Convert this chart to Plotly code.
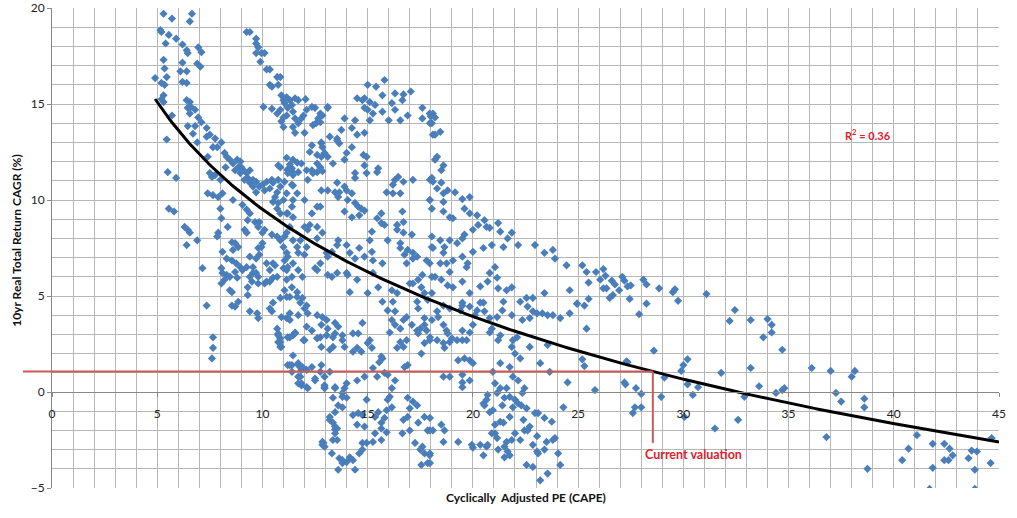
import numpy as np
import plotly.graph_objects as go

# (CAPE, 10yr real total return CAGR %), grouped by CAPE band
pts_cape_5_8 = [
    (5.3,19.7),(5.7,19.45),(6.65,19.7),(6.55,19.3),(5.15,18.85),(5.2,18.75),(5.55,18.6),(5.9,18.4),
    (5.4,18.15),(6.2,18.1),(6.4,17.8),(6.45,17.65),(6.95,17.95),(7.1,17.7),(5.3,17.3),(6.2,17.15),
    (6.9,17.1),(7.05,16.95),(5.35,16.85),(6.1,16.7),(6.4,16.7),(4.9,16.35),(5.45,16.4),(5.2,16.1),
    (5.35,16.0),(6.2,16.15),(6.4,16.1),(5.3,15.45),(5.2,15.25),(5.3,15.1),(6.4,15.2),(6.55,15.1),
    (6.45,14.8),(6.6,14.85),(6.8,14.7),(6.55,14.5),(6.95,14.3),(5.7,14.4),(7.1,14.05),(6.45,13.85),
    (6.8,13.85),(7.35,13.75),(7.5,13.4),(7.35,13.3),(6.7,13.45),(7.75,13.2),(5.45,13.15),(6.9,13.0),
    (7.65,12.75),(8.05,13.0),(7.85,12.75),(7.4,12.25),(5.5,11.45),(5.9,11.15),(5.55,9.55),(5.8,9.4),
    (6.3,8.6),(6.45,8.45),(6.55,8.3),(6.4,7.65),(6.9,7.9),(7.35,4.5),(7.15,6.45),(7.65,2.85),
    (7.65,2.3),(7.6,1.75),
]
pts_cape_8_11 = [
    (7.5,11.4),(7.6,11.2),(7.75,11.3),(8.0,11.05),(7.4,10.35),(7.65,10.25),(7.9,10.15),(8.1,10.35),
    (8.6,10.0),(8.0,9.55),(8.05,9.05),(8.35,8.6),(9.05,9.75),(9.25,9.5),(9.4,9.3),(9.3,8.95),
    (9.65,8.85),(9.85,8.85),(9.8,8.6),(10.1,8.45),(10.0,8.3),(10.45,8.2),(10.7,8.1),(11.05,8.1),
    (9.15,8.45),(9.25,8.3),(8.2,12.45),(8.3,12.25),(8.45,12.1),(8.25,11.7),(8.6,11.9),(8.8,12.1),
    (8.95,12.0),(8.85,11.7),(9.0,11.7),(9.1,11.55),(9.25,11.4),(8.95,11.4),(8.7,11.55),(9.4,11.55),
    (9.3,11.15),(9.55,11.05),(9.7,10.95),(9.4,10.9),(9.15,11.05),(9.85,10.7),(10.0,10.8),(10.1,10.5),
    (9.7,10.4),(9.55,10.7),(10.2,10.95),(10.45,11.05),(10.5,10.9),(10.35,10.6),(10.7,10.4),(10.85,10.7),
    (10.75,11.05),(10.85,11.7),(11.2,11.55),(10.6,10.15),(10.5,9.9),(10.75,9.85),(11.0,10.0),(11.15,10.35),
    (10.7,9.55),(10.85,9.3),(11.15,9.3),(7.85,8.1),(7.9,8.3),(8.1,7.3),(8.55,7.8),(8.7,7.75),
    (8.85,7.55),(8.6,7.4),(8.55,6.85),(8.75,6.7),(8.3,6.95),(8.95,6.5),(9.4,7.05),(9.7,6.95),
    (9.8,7.5),(9.95,7.55),(10.0,7.75),(9.85,7.15),(9.05,6.35),(9.25,6.5),(9.55,6.5),(9.4,6.0),
    (9.55,6.2),(9.7,6.2),(9.8,6.0),(9.3,5.45),(9.5,5.75),(8.1,6.2),(8.3,6.1),(8.05,5.65),
    (8.2,5.85),(8.45,6.0),(8.55,5.2),(8.7,6.25),(8.8,5.95),(8.05,6.45),(10.2,6.7),(10.5,6.7),
    (10.6,6.6),(10.35,6.35),(10.2,5.75),(10.35,5.75),(10.5,5.95),(10.1,5.65),(9.8,5.65),(10.7,6.0),
    (11.0,6.45),(11.15,6.35),(11.05,6.85),(11.15,7.25),(10.85,7.9),(11.0,7.55),(11.15,4.95),(10.85,4.9),
    (10.5,4.65),(10.35,4.35),(10.45,4.2),(11.15,3.85),(10.9,3.9),(10.7,3.3),(10.75,3.05),(10.85,2.8),
    (10.75,2.6),(10.85,2.35),(11.2,2.85),(11.2,1.4),(9.8,3.85),(9.4,4.2),(9.75,4.1),(9.3,5.05),
    (8.55,4.5),(8.7,4.45),(8.85,4.7),(8.45,5.3),
    (9.25,18.75),(9.4,18.75),(9.7,18.4),(9.7,18.15),(9.8,17.95),(9.7,17.65),(9.95,17.65),(10.1,17.65),
    (9.9,17.2),(10.2,16.8),(10.35,16.8),(10.35,16.0),(10.45,15.9),(10.7,16.4),(10.85,16.4),(10.75,16.0),
    (10.9,15.45),(11.0,15.2),(11.15,15.35),(11.3,15.2),(11.05,15.05),(11.2,14.8),(10.7,14.5),(10.85,14.7),
    (11.0,14.3),(11.15,14.4),(11.0,13.8),(10.05,14.85),(10.45,14.75),(10.9,14.1),(10.75,11.8),(11.15,12.2),
    (11.2,11.6),(10.75,2.95),(10.85,2.6),(10.9,2.35),
]
pts_cape_11_18 = [
    (11.55,15.3),(11.7,15.2),(12.05,15.25),(11.4,14.95),(11.45,14.6),(11.55,14.25),(11.7,14.0),(11.85,14.25),
    (11.95,14.4),(12.1,14.7),(12.35,14.85),(12.5,14.8),(12.75,14.5),(12.65,14.25),(12.85,14.4),(13.1,14.8),
    (12.4,13.9),(12.55,14.0),(12.75,14.05),(11.45,13.8),(12.0,13.5),(11.55,13.5),(13.55,13.2),(12.35,12.85),
    (12.8,12.95),(12.6,12.35),(11.45,12.1),(11.3,11.85),(11.4,11.5),(11.45,10.75),(12.1,11.55),(12.85,11.5),
    (15.8,16.25),(15.0,16.0),(15.4,15.9),(16.3,15.55),(15.7,15.45),(16.7,15.5),(17.05,15.65),(16.65,15.2),
    (14.5,15.3),(14.75,15.2),(14.85,15.3),(15.1,15.1),(15.35,14.95),(15.0,14.7),(14.85,14.8),(15.25,14.5),
    (15.7,14.6),(16.15,15.05),(16.3,14.7),(16.9,14.4),(16.55,14.15),(16.0,14.15),(15.1,14.15),(14.4,14.15),
    (13.9,14.25),(13.1,14.85),(17.6,14.8),(17.95,14.5),(17.6,14.25),(14.25,13.75),(13.75,13.65),(14.5,13.4),
    (14.85,13.5),(13.2,13.3),(13.55,13.1),(13.65,12.95),(14.25,12.75),(12.8,13.0),(12.85,12.75),(12.25,12.5),
    (12.95,12.45),(13.1,12.25),(14.0,12.45),(14.8,12.35),(14.95,12.25),(13.9,12.1),(12.8,12.25),(13.35,11.9),
    (12.6,11.9),(11.85,11.9),(11.65,11.95),(11.4,11.65),(11.45,11.3),(11.2,11.4),(11.05,10.95),(11.4,10.8),
    (11.7,11.45),(12.35,11.55),(12.4,11.4),(12.6,11.45),(12.15,11.05),(12.75,11.7),(14.4,11.4),(14.85,11.8),
    (14.95,11.4),(15.45,11.45),(15.5,11.65),(14.4,11.15),(13.55,10.9),(13.9,10.7),(13.1,10.5),(13.45,10.4),
    (13.65,10.4),(13.6,10.15),(14.0,10.5),(14.25,10.35),(14.05,10.0),(14.4,9.85),(14.55,9.65),(14.7,9.55),
    (14.85,9.45),(14.6,9.2),(13.9,9.4),(14.25,9.1),(12.6,9.65),(12.75,9.65),(12.0,10.0),(11.65,10.35),
    (11.45,10.0),(11.4,9.65),(11.2,9.3),(11.45,9.1),(16.3,11.05),(16.45,11.2),(16.7,10.95),(16.2,10.8),
    (17.15,11.05),(16.55,10.35),(15.9,10.4),(16.2,10.35),(16.65,9.4),(16.7,8.85),(15.65,9.3),(15.45,9.05),
    (15.65,8.8),(15.8,8.7),(16.4,8.7),(15.2,8.35),(15.1,7.9),(15.95,7.9),(16.4,8.45),(16.7,8.3),
    (17.1,8.2),(16.55,7.75),(16.55,7.5),(16.9,7.4),(17.15,7.25),(16.75,7.15),(16.85,6.7),(17.15,6.95),
    (17.35,7.05),(17.95,6.7),(17.8,6.85),(17.6,6.1),(17.4,5.85),(17.55,5.45),(17.15,5.65),(17.0,5.65),
    (17.7,5.15),(16.15,5.3),(16.4,5.15),(15.7,4.7),(16.2,4.7),(16.3,4.2),(16.15,3.75),(16.3,3.5),
    (16.05,3.1),(16.55,3.3),(16.55,2.6),(16.85,2.7),(16.4,2.3),(16.7,2.35),(17.35,3.2),(17.5,3.3),
    (17.1,3.5),(17.7,3.5),(17.7,3.85),(17.4,4.35),(15.7,1.75),(15.55,1.55),(15.65,1.85),(16.9,1.4),
    (16.75,1.3),(15.0,2.55),(15.1,2.7),(15.2,2.3),(14.55,3.05),(14.3,3.05),(14.75,3.6),(13.8,2.95),
    (13.9,2.35),(14.5,2.3),(14.3,2.1),(14.7,2.1),(13.8,2.7),(13.45,3.05),(13.45,3.6),(13.6,3.4),
    (13.1,3.3),(13.05,3.75),(12.85,3.9),(12.6,4.0),(12.8,3.5),(12.75,2.85),(12.6,2.8),(12.35,3.2),
    (12.1,3.4),(12.0,2.7),(11.45,2.95),(11.55,3.1),(11.3,3.75),(11.3,4.1),(11.7,4.0),(12.15,4.1),
    (12.0,4.35),(11.8,4.65),(11.9,4.9),(11.65,4.95),(11.3,4.95),(11.05,5.3),(11.4,5.45),(11.65,5.2),
    (12.1,4.5),(11.2,6.5),(11.45,6.7),(11.7,6.35),(11.4,6.0),(11.9,6.0),(11.2,7.05),(11.7,7.25),
    (12.0,7.15),(12.1,7.55),(11.65,7.55),(11.8,7.9),(11.45,7.9),(11.15,8.3),(11.3,8.6),(12.0,8.6),
    (12.15,8.45),(12.6,8.0),(12.75,6.7),(12.5,6.45),(12.6,6.35),(13.1,6.1),(13.3,6.0),(13.55,6.2),
    (14.0,6.2),(14.05,6.1),(14.5,5.85),(14.15,5.2),(13.05,7.25),(12.8,10.5),(12.35,9.3),(11.15,5.85),
    (13.45,0.2),(13.8,-0.05),(13.9,0.2),(14.0,0.45),(14.5,0.6),(14.85,0.8),(12.95,0.25),(12.95,0.8),
    (12.5,0.7),(12.35,1.3),(11.9,1.3),(11.8,1.3),(11.7,1.5),(11.85,1.15),(11.7,0.8),(11.85,0.45),
    (12.1,0.25),(11.3,1.4),(15.25,1.25),(15.45,0.8),(15.8,1.0),(15.95,0.9),(16.3,0.6),(16.15,0.2),
    (16.05,-0.25),(15.95,-0.4),(16.15,-0.8),(15.9,-0.95),(15.5,-1.05),(15.35,-1.3),(15.8,-1.35),(15.65,-1.6),
    (15.65,-1.9),(15.9,-2.1),(15.35,-2.15),(15.65,-2.5),(15.25,-2.6),(14.75,-1.2),(14.55,-1.1),(14.3,-1.2),
    (14.85,-1.8),(14.75,-2.65),(14.95,-2.65),(14.75,-3.0),(14.6,-3.2),(13.8,-0.25),(13.8,-0.8),(13.6,-0.7),
    (13.45,-1.05),(13.2,-1.3),(13.35,-1.6),(13.55,-1.9),(13.45,-2.15),(13.35,-2.5),(12.85,-2.6),(12.85,-2.75),
    (13.3,-3.2),(13.65,-3.45),(13.8,-3.7),(13.6,-4.05),(13.8,-3.55),(14.0,-3.65),(14.15,-3.4),(14.3,-3.55),
    (14.4,-4.05),(14.0,-0.3),(14.95,-0.4),(14.5,-1.7),(16.9,-0.3),(17.15,-0.5),(17.35,-0.7),(17.0,-0.85),
    (16.9,-1.3),(16.7,-1.45),(16.65,-2.15),(17.0,-2.0),(17.25,-2.65),(17.4,-1.6),(17.7,-1.3),(17.85,-2.0),
    (17.6,-2.85),(17.5,-3.0),(17.7,-3.2),(17.95,-3.3),(17.55,-3.8),(17.85,-3.7),(17.55,2.0),(17.7,2.55),
    (17.95,2.7),(17.8,3.2),(17.4,3.05),(16.85,3.9),(16.7,3.75),(17.85,4.8),(17.35,4.7),(15.95,4.25),
    (15.0,5.15),(15.5,5.45),(15.25,6.2),(15.7,6.7),(15.25,6.85),(14.85,7.05),(14.4,6.95),(14.15,7.25),
    (14.6,7.5),(15.2,7.3),(14.0,7.65),(13.55,7.65),(13.3,7.3),(13.1,7.05),(13.6,7.9),(12.85,8.3),
    (12.6,8.6),(12.25,8.7),
    (11.3,2.85),(11.45,1.9),(11.55,3.05),(11.95,2.7),(11.4,1.4),(11.7,1.4),(11.4,1.05),(11.8,0.8),
    (12.1,1.15),(11.7,0.45),(11.85,0.35),(12.15,0.2),(12.5,0.6),(12.6,2.8),(12.8,2.35),(12.8,1.4),
    (12.75,1.05),(13.2,1.05),(12.95,0.35),(12.95,0.2),(13.05,2.95),(13.35,2.85),(13.2,2.2),(13.35,2.35),
    (13.45,0.25),(13.35,-0.3),(13.2,-1.45),(13.45,-1.8),(13.45,-1.95),(13.55,-2.5),(12.9,-2.65),(12.95,-2.85),
]
pts_cape_18_25 = [
    (18.1,14.5),(18.0,14.35),(18.2,14.3),(17.96,14.0),(18.45,13.55),(18.2,13.4),(18.2,12.1),(18.3,12.25),
    (18.6,11.8),(18.5,11.55),(17.96,11.05),(18.1,10.95),(18.5,10.9),(18.3,10.6),(18.8,10.5),(19.15,10.4),
    (18.6,10.35),(18.6,9.9),(17.96,10.0),(19.5,10.05),(19.85,10.15),(19.6,9.55),(18.6,9.4),(18.9,9.1),
    (19.05,9.05),(19.85,9.3),(20.2,9.2),(20.25,8.7),(20.0,8.45),(20.55,8.95),(20.65,8.6),(20.8,8.55),
    (21.2,8.8),(21.3,8.35),(21.85,8.3),(21.45,7.55),(21.65,8.0),(20.9,7.65),(20.5,7.5),(20.0,7.3),
    (19.6,8.2),(19.5,8.0),(19.25,7.75),(18.9,7.9),(18.45,7.9),(18.05,8.1),(18.1,7.5),(18.65,7.55),
    (18.6,7.25),(18.45,6.7),(18.75,6.7),(19.05,6.85),(19.5,7.05),(19.75,6.7),(19.7,6.5),(18.9,6.25),
    (18.2,6.0),(18.5,5.85),(18.8,5.55),(19.05,5.45),(19.5,5.75),(19.85,5.15),(20.35,5.5),(20.7,5.75),
    (21.15,5.95),(21.05,6.5),(20.8,6.2),(21.2,5.4),(21.6,5.3),(21.85,5.45),(22.15,7.65),(22.95,7.65),
    (23.4,7.25),(23.8,7.4),(23.9,6.95),(24.45,6.6),(24.6,5.3),(24.95,4.6),(24.6,4.1),(23.4,5.15),
    (22.85,4.9),(22.55,4.9),(22.25,4.7),(22.6,4.45),(22.85,4.2),(23.05,4.1),(23.3,4.1),(23.55,4.0),
    (23.8,4.0),(24.15,3.85),(22.7,3.85),(22.35,3.75),(21.85,4.0),(21.45,4.7),(21.4,4.25),(21.15,3.9),
    (20.8,3.85),(20.55,4.2),(20.35,4.65),(20.2,4.25),(20.1,4.0),(20.5,4.65),(19.5,4.5),(19.5,4.65),
    (19.4,4.25),(19.85,4.45),(18.9,4.35),(18.6,4.5),(18.3,4.2),(18.05,3.75),(18.35,3.9),(18.6,3.5),
    (18.75,3.2),(18.8,3.05),(18.9,2.6),(18.6,2.55),(18.65,2.3),(18.3,2.7),(17.96,2.85),(19.0,2.8),
    (19.25,2.7),(19.5,2.7),(19.7,2.7),(19.5,3.2),(19.85,3.1),(20.0,3.5),(19.3,1.65),(19.6,1.75),
    (19.85,1.65),(20.0,1.5),(18.6,0.8),(18.9,0.8),(19.5,0.9),(19.5,0.5),(19.5,0.25),(19.85,0.6),
    (20.95,1.05),(21.3,1.5),(21.75,1.3),(21.05,0.45),(21.3,0.2),(21.15,-0.05),(21.6,0.2),(21.9,0.8),
    (22.15,0.6),(22.0,2.0),(21.85,2.35),(22.1,2.85),(21.9,2.7),(22.25,1.75),(21.3,2.95),(21.2,2.7),
    (20.8,3.1),(20.9,3.3),(23.2,1.5),(23.65,1.05),(24.5,0.5),(22.7,2.35),(23.55,2.45),(22.35,-0.05),
    (22.45,0.2),(22.0,-0.4),(22.15,-0.6),(22.3,-0.7),(22.55,-0.85),(22.95,-1.1),(23.1,-1.1),(23.4,-1.35),
    (24.3,-0.8),(23.75,-1.55),(23.8,-2.5),(23.9,-2.4),(23.5,-2.6),(24.05,-3.2),(23.05,-3.1),(23.1,-3.2),
    (23.4,-3.0),(22.85,-2.75),(23.05,-2.3),(22.6,-2.0),(22.45,-2.0),(22.4,-1.45),(22.7,-1.8),(22.55,-3.8),
    (22.85,-3.9),(23.2,-4.6),(23.55,-4.25),(22.0,-2.15),(22.25,-2.5),(21.85,-2.5),(21.6,-2.6),(21.5,-2.85),
    (21.65,-3.1),(21.5,-3.4),(21.75,-3.3),(21.2,-3.0),(21.15,-2.4),(21.05,-2.15),(20.9,-2.15),(21.3,-1.55),
    (21.45,-1.6),(21.05,-1.7),(21.75,-1.3),(21.5,-0.3),(21.75,-0.25),(21.9,-0.8),(21.4,-0.7),(20.95,-0.95),
    (20.8,-1.05),(20.55,-0.7),(20.65,-0.4),(20.7,-0.15),(20.5,-0.6),(20.65,-2.85),(20.5,-3.3),(20.7,-2.75),
    (20.35,-2.75),(19.95,-2.75),(20.0,-2.9),(19.3,-2.6),(18.65,-2.0),(18.5,-1.7),(18.6,-2.6),(17.96,-2.0),
    (18.1,-2.0),(17.96,-3.2),(17.96,-3.7),(17.96,-1.35),(24.15,-3.8),
    (18.05,11.15),(17.95,10.0),(18.05,9.55),(18.05,7.55),(18.05,5.15),(18.05,6.0),(18.1,13.4),(18.05,14.0),
]
pts_cape_25_45 = [
    (25.2,6.6),(25.4,6.25),(25.85,6.25),(25.5,5.7),(24.95,4.6),(25.3,4.5),(25.5,4.85),(26.2,6.4),
    (26.05,5.85),(26.3,6.05),(26.2,5.4),(26.35,5.4),(26.6,5.8),(26.75,5.6),(26.5,4.9),(26.65,5.05),
    (26.95,5.3),(27.1,6.0),(27.2,5.8),(27.35,5.5),(27.5,5.55),(27.45,4.85),(28.1,5.85),(28.25,5.6),
    (27.9,4.05),(28.25,4.6),(28.85,5.4),(29.5,5.2),(29.6,5.35),(29.75,4.75),(31.1,5.1),(25.4,3.3),
    (28.6,2.15),(27.3,1.6),(27.35,1.55),(25.2,1.7),(25.3,1.35),(30.2,1.7),(30.0,1.4),(29.9,1.1),
    (29.1,0.75),(27.2,0.5),(27.25,0.4),(30.2,0.4),(30.7,0.25),(30.45,-0.15),(27.75,0.2),(28.0,-0.1),
    (28.95,-0.25),(25.8,0.1),(27.7,-0.8),(28.0,-0.8),(27.6,-1.1),(30.05,-1.3),(31.5,-1.9),
    (32.45,4.27),(32.2,3.7),(33.2,3.75),(34.0,3.8),(34.2,3.5),(34.2,3.1),(33.8,2.85),(34.7,2.2),
    (31.8,1.0),(33.2,1.25),(36.1,1.25),(37.0,1.1),(38.15,1.1),(38.0,0.8),(33.6,0.3),(34.4,-0.05),
    (34.7,0.1),(34.8,0.2),(32.9,-0.25),(37.25,-0.05),(37.5,-0.5),(38.6,-0.35),(38.6,-0.8),(32.6,-1.45),
    (36.8,-2.35),(41.1,-2.25),(40.7,-2.95),(40.4,-3.55),(41.85,-2.7),(42.4,-2.7),(42.65,-2.95),(42.8,-3.3),
    (42.4,-3.55),(42.6,-3.55),(41.85,-3.95),(43.7,-3.05),(43.95,-3.1),(43.55,-3.45),(44.65,-2.4),(44.6,-3.7),
    (43.85,-4.05),(38.75,-4.0),(41.7,-5.05),(43.85,-5.05),
]

# logarithmic trend line (Excel fit): y = a*ln(x) + b
trend_a = -8.054
trend_b = 28.06
trend_x_start = 4.9
trend_x_end = 45.0
r_squared = 0.36

current_cape = 28.55
current_marker_bottom = -2.65

x_range = [0, 45]
y_range = [-5, 20]
x_ticks = [0, 5, 10, 15, 20, 25, 30, 35, 40, 45]
y_ticks = [-5, 0, 5, 10, 15, 20]

all_pts = pts_cape_5_8 + pts_cape_8_11 + pts_cape_11_18 + pts_cape_18_25 + pts_cape_25_45
cape = [p[0] for p in all_pts]
ret = [p[1] for p in all_pts]

def trend(x):
    return trend_a * np.log(x) + trend_b

tx = np.linspace(trend_x_start, trend_x_end, 300)

RED_LINE = "#c85a58"
RED_TEXT = "#e3202a"
GRID = "#b7b7b7"
AXIS = "#888888"
FONT = "Lato"

fig = go.Figure()
fig.add_trace(go.Scatter(
    x=cape, y=ret, mode="markers",
    marker=dict(symbol="diamond", size=6.3, color="#4a7ebb", line=dict(width=0)),
    showlegend=False, hoverinfo="skip",
))
fig.add_trace(go.Scatter(
    x=tx, y=trend(tx), mode="lines",
    line=dict(color="black", width=3), showlegend=False, hoverinfo="skip",
))

W, H = 1017, 518
ml, mr, mt, mb = 52, 18, 8, 30
plot_w = W - ml - mr

cur_y = float(trend(current_cape))
cur_y_paper = (cur_y - y_range[0]) / (y_range[1] - y_range[0])
cur_x_paper = (current_cape - x_range[0]) / (x_range[1] - x_range[0])

fig.add_shape(type="line", xref="paper", yref="paper",
              x0=-29 / plot_w, x1=cur_x_paper, y0=cur_y_paper, y1=cur_y_paper,
              line=dict(color=RED_LINE, width=2), layer="above")
fig.add_shape(type="line", xref="x", yref="y",
              x0=current_cape, x1=current_cape, y0=cur_y, y1=current_marker_bottom,
              line=dict(color=RED_LINE, width=2), layer="above")

fig.add_annotation(x=current_cape - 0.45, y=-3.28, xref="x", yref="y",
                   text="<b>Current valuation</b>", showarrow=False, xanchor="left",
                   font=dict(family=FONT, size=12.5, color=RED_TEXT))
fig.add_annotation(x=38.76, y=13.4, xref="x", yref="y",
                   text="<b>R<sup>2</sup> = 0.36</b>", showarrow=False,
                   font=dict(family=FONT, size=11, color=RED_TEXT))
fig.add_annotation(x=0.5, y=0, xref="paper", yref="paper", yshift=-9,
                   text="<b>Cyclically\u00a0 Adjusted PE (CAPE)</b>", showarrow=False,
                   xanchor="center", yanchor="middle",
                   font=dict(family=FONT, size=12, color="#111"))
fig.add_annotation(x=0, y=0.515, xref="paper", yref="paper", xshift=-35,
                   text="<b>10yr Real Total Return CAGR (%)</b>", showarrow=False,
                   textangle=-90, xanchor="center", yanchor="middle",
                   font=dict(family=FONT, size=12, color="#111"))

minor_grid = dict(dtick=1, showgrid=True, gridcolor=GRID, gridwidth=1,
                  ticks="outside", ticklen=0, tickcolor=GRID)

fig.update_layout(
    width=W, height=H,
    margin=dict(l=ml, r=mr, t=mt, b=mb, autoexpand=False),
    paper_bgcolor="white", plot_bgcolor="white",
    font=dict(family=FONT, size=12, color="#222"),
    xaxis=dict(range=x_range, tickvals=x_ticks, showgrid=True, gridcolor=GRID, gridwidth=1,
               minor=minor_grid,
               zeroline=False, showline=True, linecolor=AXIS, linewidth=1,
               anchor="free", position=(0 - y_range[0]) / (y_range[1] - y_range[0]),
               ticks="outside", ticklen=4, tickcolor=AXIS, ticklabelstandoff=7,
               tickfont=dict(family=FONT, size=12, color="#222"), automargin=False),
    yaxis=dict(range=y_range, tickvals=y_ticks, showgrid=True, gridcolor=GRID, gridwidth=1,
               minor=minor_grid,
               zeroline=False, showline=True, linecolor=AXIS, linewidth=1,
               ticks="outside", ticklen=4, tickcolor=AXIS,
               tickfont=dict(family=FONT, size=12, color="#222"), automargin=False),
)

fig.write_html("out.html")
